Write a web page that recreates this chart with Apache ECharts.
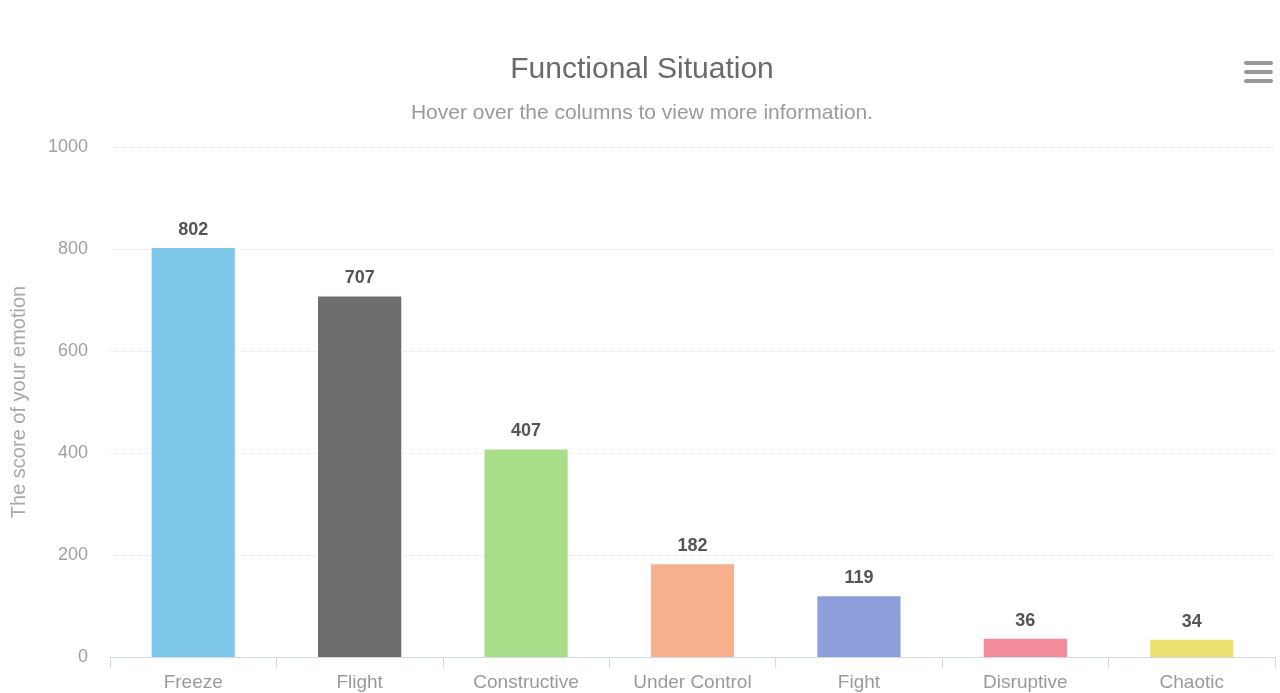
<!DOCTYPE html>
<html><head><meta charset="utf-8">
<script src="https://cdn.jsdelivr.net/npm/echarts@6/dist/echarts.min.js"></script>
<style>html,body{margin:0;padding:0;background:#fff}#c{width:1280px;height:693px}</style>
</head><body><div id="c"></div>
<script>
const categories = ['Freeze','Flight','Constructive','Under Control','Fight','Disruptive','Chaotic'];
const scores = [802, 707, 407, 182, 119, 36, 34];
const colors = ['#7ec9ea','#6e6c6c','#a8de8a','#f6b18c','#8d9fdb','#f28b9c','#e9e271'];
const yTicks = [0, 200, 400, 600, 800, 1000];

const chart = echarts.init(document.getElementById('c'));
chart.setOption({
  animation: false,
  title: {
    text: 'Functional Situation',
    subtext: 'Hover over the columns to view more information.',
    left: 637, top: 50, textAlign: 'center',
    textStyle: {fontFamily: 'Liberation Sans', fontSize: 30, fontWeight: 'normal', color: '#6a6a6a'},
    subtextStyle: {fontFamily: 'Liberation Sans', fontSize: 21, color: '#9a9a9a'},
    itemGap: 18
  },
  graphic: [
    {type:'rect', shape:{x:1244,y:61,width:29,height:4,r:2}, style:{fill:'#999'}},
    {type:'rect', shape:{x:1244,y:70,width:29,height:4,r:2}, style:{fill:'#999'}},
    {type:'rect', shape:{x:1244,y:79,width:29,height:4,r:2}, style:{fill:'#999'}}
  ],
  grid: {left: 110, right: 5, top: 147, bottom: 36},
  xAxis: {
    type: 'category', data: categories,
    axisLine: {lineStyle: {color: '#d4dae3'}},
    axisTick: {show: true, length: 11, lineStyle: {color: '#d4dae3'}},
    axisLabel: {fontFamily: 'Liberation Sans', fontSize: 19, color: '#9a9a9a', margin: 16}
  },
  yAxis: {
    type: 'value', min: 0, max: yTicks[yTicks.length-1], interval: 200,
    name: 'The score of your emotion', nameLocation: 'middle', nameGap: 81,
    nameTextStyle: {fontFamily: 'Liberation Sans', fontSize: 20, color: '#a8a8a8'},
    axisLabel: {fontFamily: 'Liberation Sans', fontSize: 18, color: '#a0a0a0', margin: 22,
      formatter: v => String(v)},
    splitLine: {lineStyle: {color: '#e6e6e6', type: 'dotted'}},
    axisLine: {show: false}, axisTick: {show: false}
  },
  series: [{
    type: 'bar', barWidth: '50%',
    data: scores.map((v, i) => ({value: v, itemStyle: {color: colors[i]}})),
    label: {show: true, position: 'top', distance: 9, fontFamily: 'Liberation Sans', fontSize: 18, fontWeight: 'bold', color: '#555'}
  }]
});
</script></body></html>
